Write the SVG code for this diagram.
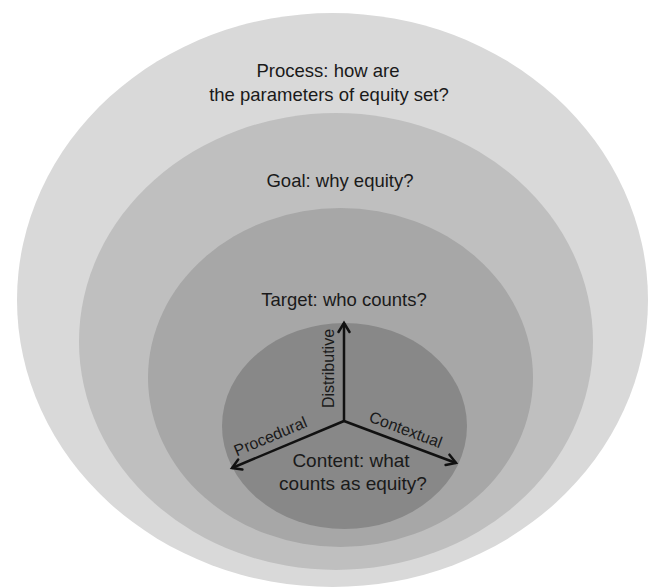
<svg xmlns="http://www.w3.org/2000/svg" width="654" height="587" viewBox="0 0 654 587">
  <style>
    .lbl { font-family: "Liberation Sans", Arial, sans-serif; font-size: 18.5px; fill: #1a1a1a; text-anchor: middle; }
    .ax { font-family: "Liberation Sans", Arial, sans-serif; font-size: 16px; fill: #1a1a1a; text-anchor: middle; }
    .arr { stroke: #111; stroke-width: 2.5; fill: none; marker-end: url(#head); }
  </style>
  <defs>
    <marker id="head" markerUnits="userSpaceOnUse" markerWidth="16" markerHeight="16" refX="11" refY="7" orient="auto">
      <path d="M2,1.5 L11,7 L2,12.5" fill="none" stroke="#111" stroke-width="2.5" stroke-linecap="round" stroke-linejoin="miter"/>
    </marker>
  </defs>
  <rect width="654" height="587" fill="#ffffff"/>
  <g id="process">
    <ellipse cx="332.5" cy="300" rx="315.5" ry="287" fill="#d9d9d9"/>
    <text class="lbl" x="328" y="77">Process: how are</text>
    <text class="lbl" x="329" y="101">the parameters of equity set?</text>
  </g>
  <g id="goal">
    <ellipse cx="336" cy="341.5" rx="257" ry="228.5" fill="#bfbfbf"/>
    <text class="lbl" x="340" y="187">Goal: why equity?</text>
  </g>
  <g id="target">
    <ellipse cx="340.5" cy="377.5" rx="192.5" ry="169.5" fill="#a7a7a7"/>
    <text class="lbl" x="344" y="306">Target: who counts?</text>
  </g>
  <g id="content">
    <ellipse cx="344.5" cy="426" rx="122.5" ry="103" fill="#888888"/>
    <text class="lbl" x="351" y="467" style="font-size:19px">Content: what</text>
    <text class="lbl" x="353" y="490" style="font-size:19px">counts as equity?</text>
  </g>
  <g id="connectors">
    <line class="arr" x1="344" y1="421" x2="344" y2="323"/>
    <line class="arr" x1="344" y1="421" x2="232" y2="468"/>
    <line class="arr" x1="344" y1="421" x2="456" y2="463"/>
    <text class="ax" transform="translate(334,368.5) rotate(-90)">Distributive</text>
    <text class="ax" transform="translate(272.5,441.4) rotate(-22.8)">Procedural</text>
    <text class="ax" transform="translate(403.8,434.7) rotate(20.7)">Contextual</text>
  </g>
</svg>
